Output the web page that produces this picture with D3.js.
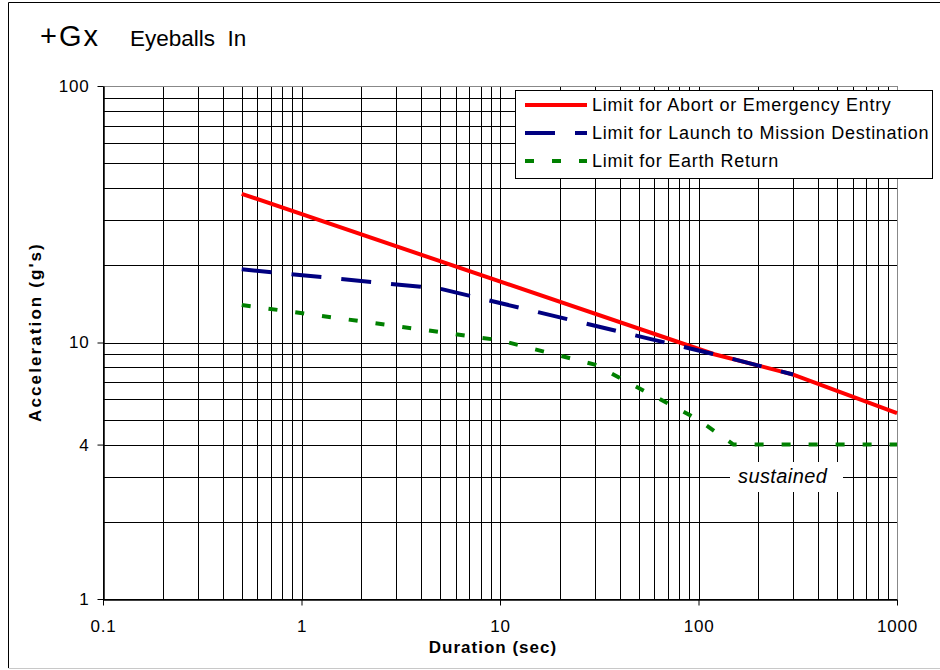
<!DOCTYPE html>
<html>
<head>
<meta charset="utf-8">
<script src="https://cdn.jsdelivr.net/npm/d3@7"></script>
<style>
  body { margin: 0; background: #fff; }
  svg { display: block; font-family: "Liberation Sans", Arial, sans-serif; }
</style>
</head>
<body>
<svg width="940" height="670"></svg>
<script>
//data
const abortX = [0.5, 120, 300, 1000];
const abortY = [38, 9, 7.5, 5.3];
const launchX = [0.5, 5, 120, 300];
const launchY = [19.3, 16.2, 9, 7.5];
const returnX = [0.5, 10, 30, 100, 150, 1000];
const returnY = [14, 10.2, 8.2, 5, 4, 4];
const seriesNames = ["Limit for Abort or Emergency Entry", "Limit for Launch to Mission Destination", "Limit for Earth Return"];
const xTickLabels = [0.1, 1, 10, 100, 1000];
const yTickLabels = [1, 4, 10, 100];

//constants
const plotLeft = 103, plotRight = 897, plotTop = 86, plotBottom = 599;

const svg = d3.select("svg");

//outer frame
svg.append("line").attr("x1", 8.5).attr("x2", 8.5).attr("y1", 2.5).attr("y2", 668).attr("stroke", "#000");
svg.append("line").attr("x1", 8.5).attr("x2", 940).attr("y1", 2.5).attr("y2", 2.5).attr("stroke", "#000");
svg.append("line").attr("x1", 8.5).attr("x2", 940).attr("y1", 668.5).attr("y2", 668.5).attr("stroke", "#c8c8c8");

//scales
const xScale = d3.scaleLog().domain([0.1, 1000]).range([plotLeft, plotRight]);
const yScale = d3.scaleLog().domain([1, 100]).range([plotBottom, plotTop]);

//grid
const grid = svg.append("g").attr("stroke", "#000").attr("stroke-width", 1);
grid.selectAll(".vx").data(xScale.ticks()).join("line")
    .attr("x1", d => Math.round(xScale(d)) + 0.5).attr("x2", d => Math.round(xScale(d)) + 0.5)
    .attr("y1", plotTop).attr("y2", plotBottom);
grid.selectAll(".hy").data(yScale.ticks()).join("line")
    .attr("y1", d => Math.round(yScale(d)) + 0.5).attr("y2", d => Math.round(yScale(d)) + 0.5)
    .attr("x1", plotLeft).attr("x2", plotRight);

//plot border top/right in gray
svg.append("line").attr("x1", plotLeft).attr("x2", plotRight + 0.5).attr("y1", plotTop + 0.5).attr("y2", plotTop + 0.5).attr("stroke", "#888");
svg.append("line").attr("x1", plotRight + 0.5).attr("x2", plotRight + 0.5).attr("y1", plotTop).attr("y2", plotBottom).attr("stroke", "#888");

//sustained label box
svg.append("rect").attr("x", 730).attr("y", 462).attr("width", 113).attr("height", 30).attr("fill", "#fff");
svg.append("text").attr("x", 738).attr("y", 483).style("font-size", "20px").style("font-style", "italic")
    .style("letter-spacing", "0.4px").text("sustained");

//axes
const xAxis = d3.axisBottom(xScale).tickValues(xTickLabels).tickSize(6).tickPadding(14)
    .tickFormat(d3.format("~g")).tickSizeOuter(0);
const yAxis = d3.axisLeft(yScale).tickValues(yTickLabels).tickSize(6).tickPadding(8)
    .tickFormat(d3.format("~g")).tickSizeOuter(0);

const gx = svg.append("g").attr("transform", "translate(0," + (plotBottom + 0.5) + ")").call(xAxis);
const gy = svg.append("g").attr("transform", "translate(" + (plotLeft + 0.5) + ",0)").call(yAxis);
[gx, gy].forEach(g => {
    g.select(".domain").attr("stroke", "#000").attr("stroke-width", 1.5);
    g.selectAll(".tick line").attr("stroke", "#000");
    g.selectAll("text").style("font-size", "17px").style("letter-spacing", "0.8px")
        .attr("fill", "#000").style("font-family", "Liberation Sans, Arial, sans-serif");
});

//axes labels
svg.append("text").attr("x", 493).attr("y", 653).style("text-anchor", "middle")
    .style("font-size", "17px").style("font-weight", "bold").style("letter-spacing", "1px")
    .text("Duration (sec)");
svg.append("text").attr("transform", "translate(41,332) rotate(-90)").style("text-anchor", "middle")
    .style("font-size", "17px").style("font-weight", "bold").style("letter-spacing", "2.1px")
    .text("Acceleration (g's)");

//title
svg.append("text").attr("x", 40).attr("y", 46).style("font-size", "29px").style("letter-spacing", "2px").text("+Gx");
svg.append("text").attr("x", 130).attr("y", 46).style("font-size", "22.5px").attr("xml:space", "preserve")
    .style("white-space", "pre").text("Eyeballs  In");

//lines
const line = d3.line().x(d => xScale(d[0])).y(d => yScale(d[1]));
const series = [
    {x: abortX, y: abortY, color: "#ff0000", dash: null},
    {x: launchX, y: launchY, color: "#000080", dash: "30,20"},
    {x: returnX, y: returnY, color: "#008000", dash: "9,18"}
];
series.forEach(s => {
    svg.append("path")
        .datum(d3.zip(s.x, s.y))
        .attr("fill", "none")
        .attr("stroke", s.color)
        .attr("stroke-width", 4)
        .attr("stroke-dasharray", s.dash)
        .attr("d", line);
});

//legend
const legend = svg.append("g");
legend.append("rect").attr("x", 515.5).attr("y", 90.5).attr("width", 417).attr("height", 88)
    .attr("fill", "#fff").attr("stroke", "#000");
series.forEach((s, i) => {
    const yy = 105 + i * 28;
    legend.append("line").attr("x1", 525).attr("x2", 587).attr("y1", yy).attr("y2", yy)
        .attr("stroke", s.color).attr("stroke-width", 4).attr("stroke-dasharray", s.dash);
    legend.append("text").attr("x", 592).attr("y", yy + 6).style("font-size", "18px")
        .style("letter-spacing", "0.72px").text(seriesNames[i]);
});
</script>
</body>
</html>
